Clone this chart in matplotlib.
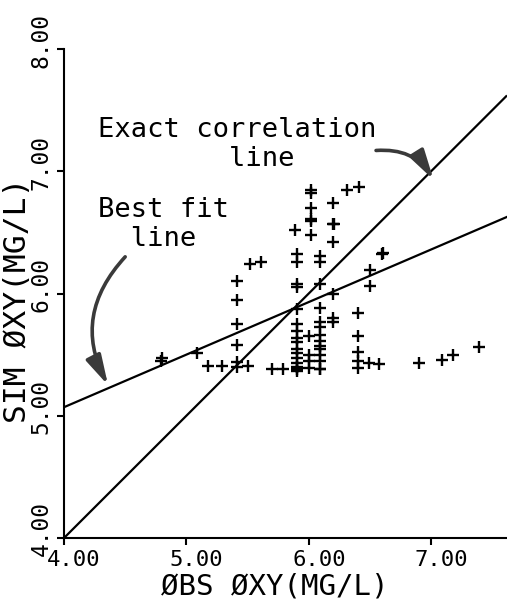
import numpy as np
import matplotlib
matplotlib.use("Agg")
import matplotlib.pyplot as plt
from matplotlib.transforms import ScaledTranslation

# ---- data ----
obs_oxy = [4.79, 4.80, 5.09, 5.18, 5.29, 5.41, 5.41, 5.50,
           5.41, 5.41, 5.41, 5.41, 5.52, 5.61, 5.70, 5.79,
           5.90, 5.90, 5.90, 5.90, 5.90, 5.90, 5.90, 5.90,
           5.90, 5.90, 5.90, 5.90, 5.90, 5.90, 5.90, 5.90, 5.89,
           6.02, 6.02, 6.02, 6.02, 6.02, 6.02,
           6.00, 6.00, 6.00, 6.00,
           6.09, 6.09, 6.09, 6.09, 6.09, 6.09, 6.09, 6.09, 6.09, 6.09, 6.09, 6.09, 6.09, 6.09,
           6.20, 6.20, 6.20, 6.20, 6.20, 6.21, 6.20,
           6.31, 6.41, 6.50, 6.50, 6.60, 6.61,
           6.40, 6.40, 6.40, 6.40, 6.40,
           6.49, 6.57, 6.90, 7.09, 7.18, 7.39]
sim_oxy = [5.45, 5.47, 5.51, 5.41, 5.41, 5.40, 5.44, 5.41,
           5.58, 5.75, 5.95, 6.10, 6.24, 6.26, 5.38, 5.38,
           5.37, 5.38, 5.40, 5.43, 5.47, 5.51, 5.55, 5.60,
           5.64, 5.69, 5.75, 5.87, 6.05, 6.08, 6.26, 6.32, 6.52,
           6.48, 6.59, 6.61, 6.70, 6.82, 6.85,
           5.39, 5.45, 5.50, 5.65,
           5.38, 5.38, 5.45, 5.50, 5.55, 5.57, 5.61, 5.66, 5.73, 5.77, 5.88, 6.08, 6.26, 6.31,
           5.77, 5.80, 6.00, 6.42, 6.57, 6.57, 6.74,
           6.85, 6.87, 6.19, 6.06, 6.32, 6.33,
           5.39, 5.45, 5.52, 5.65, 5.84,
           5.43, 5.42, 5.43, 5.46, 5.50, 5.56]

fit_slope = 0.43
fit_intercept_at_4 = 5.07

x_ticks = [4.0, 5.0, 6.0, 7.0]
y_ticks = [4.0, 5.0, 6.0, 7.0, 8.0]
x_ticklabels = ["4.00", "5.00", "6.00", "7.00"]
y_ticklabels = ["4.00", "5.00", "6.00", "7.00", "8.00"]

FONT = "DejaVu Sans Mono"

fig = plt.figure(figsize=(5.07, 6.12), dpi=100)
ax = fig.add_axes([64/507, 74/612, 443/507, 489/612])
xmin, xmax = 4.0, 7.62
ax.set_xlim(xmin, xmax)
ax.set_ylim(4.0, 8.0)

# lines
xx = np.array([xmin, xmax])
ax.plot(xx, xx, color="black", lw=1.6, solid_capstyle="butt")
ax.plot(xx, fit_intercept_at_4 + fit_slope * (xx - 4.0), color="black", lw=1.6)

# points
ax.plot(obs_oxy, sim_oxy, linestyle="none", marker="+", ms=8.5, mew=1.7, color="black")

# spines
for s in ["top", "right"]:
    ax.spines[s].set_visible(False)
for s in ["left", "bottom"]:
    ax.spines[s].set_linewidth(1.5)

ax.set_xticks(x_ticks)
ax.set_xticklabels(x_ticklabels, fontfamily=FONT, fontsize=16)
ax.set_yticks(y_ticks)
ax.set_yticklabels(y_ticklabels, fontfamily=FONT, fontsize=16.5, rotation=90, va="center")
ax.tick_params(axis="both", direction="out", length=5, width=1.5, pad=3)
ax.tick_params(axis="x", pad=4)

for t in ax.xaxis.get_major_ticks():
    t.label1.set_transform(t.label1.get_transform() + ScaledTranslation(10/100, 0, fig.dpi_scale_trans))
for t in ax.yaxis.get_major_ticks():
    t.label1.set_transform(t.label1.get_transform() + ScaledTranslation(0, 9/100, fig.dpi_scale_trans))

ax.set_xlabel("ØBS ØXY(MG/L)", fontfamily=FONT, fontsize=21)
ax.xaxis.set_label_coords(0.475, -0.07)
ax.set_ylabel("SIM ØXY(MG/L)", fontfamily=FONT, fontsize=22.5)
ax.yaxis.set_label_coords(-0.072, 0.487)

# annotations
ax.text(4.28, 7.44, "Exact correlation\n        line", fontfamily=FONT, fontsize=19.5,
        ha="left", va="top", linespacing=1.15)
ax.text(4.28, 6.79, "Best fit\n  line", fontfamily=FONT, fontsize=19.5,
        ha="left", va="top", linespacing=1.15)

arrow_kw = dict(arrowstyle="-|>,head_length=0.6,head_width=0.16", color="#3a3a3a",
                lw=2.6, mutation_scale=30, shrinkA=0, shrinkB=0)
ax.annotate("", xy=(7.02, 6.93), xytext=(6.55, 7.17),
            arrowprops=dict(connectionstyle="arc3,rad=-0.3", **arrow_kw))
ax.annotate("", xy=(4.36, 5.25), xytext=(4.50, 6.30),
            arrowprops=dict(connectionstyle="arc3,rad=0.35", **arrow_kw))

fig.savefig("out.png", dpi=100)
